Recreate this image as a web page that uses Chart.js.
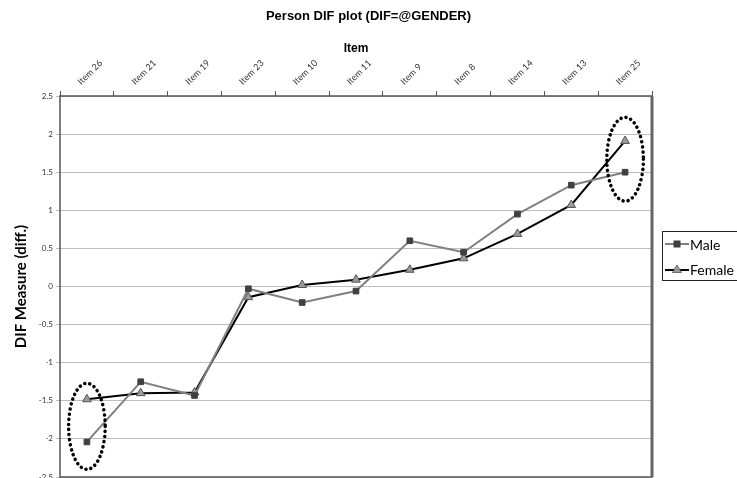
<!DOCTYPE html>
<html>
<head>
<meta charset="utf-8">
<script src="https://cdn.jsdelivr.net/npm/chart.js@4"></script>
<style>
  body { margin: 0; background: #fff; }
  #wrap { position: relative; width: 737px; height: 478px; overflow: hidden; }
  #title { position: absolute; left: 0; top: 8px; width: 737px; text-align: center;
    font: bold 13px "Liberation Sans", Arial, sans-serif; color: #000; }
  #legend { position: absolute; left: 662px; top: 231px; width: 90px; height: 50px;
    border: 1px solid #222; box-sizing: border-box; font: 14px Lato, "Open Sans", sans-serif; }
  .row { position: absolute; left: 2px; height: 18px; display: flex; align-items: center; }
  .row svg { margin-right: 1px; }
  canvas { display: block; }
</style>
</head>
<body>
<div id="wrap">
  <canvas id="chart" width="737" height="483"></canvas>
  <div id="title">Person DIF plot (DIF=@GENDER)</div>
  <div id="legend">
    <div class="row" style="top:3px">
      <svg width="24" height="10"><line x1="0" y1="5" x2="24" y2="5" stroke="#808080" stroke-width="2"/><rect x="8.5" y="1.5" width="7" height="7" fill="#404040"/></svg>Male
    </div>
    <div class="row" style="top:28px">
      <svg width="24" height="10"><line x1="0" y1="6" x2="24" y2="6" stroke="#000" stroke-width="2"/><polygon points="12,1 16.5,8.5 7.5,8.5" fill="#9a9a9a" stroke="#555" stroke-width="0.8"/></svg>Female
    </div>
  </div>
</div>
<script>
const items = ["Item 26", "Item 21", "Item 19", "Item 23", "Item 10", "Item 11",
  "Item 9", "Item 8", "Item 14", "Item 13", "Item 25"];
const maleDif = [-2.04, -1.25, -1.43, -0.03, -0.21, -0.06, 0.60, 0.45, 0.95, 1.33, 1.50];
const femaleDif = [-1.48, -1.40, -1.39, -0.14, 0.02, 0.09, 0.22, 0.37, 0.69, 1.07, 1.91];
const yTicks = [-2.5, -2, -1.5, -1, -0.5, 0, 0.5, 1, 1.5, 2, 2.5];

// circled items: category + value range the dotted ellipse covers
const circled = [
  { item: "Item 26", from: -2.40, to: -1.27 },
  { item: "Item 25", from: 1.12, to: 2.22 }
];

const frame = {
  id: "frame",
  afterDraw(chart) {
    const { ctx, chartArea: a, scales } = chart;
    ctx.save();
    // plot border
    ctx.strokeStyle = "#555";
    ctx.lineWidth = 1.5;
    ctx.strokeRect(a.left, a.top, a.right - a.left, a.bottom - a.top);
    ctx.lineWidth = 3;
    ctx.strokeStyle = "#666";
    ctx.beginPath();
    ctx.moveTo(a.right, a.top);
    ctx.lineTo(a.right, a.bottom);
    ctx.stroke();
    // dotted ellipses
    const band = scales.x.getPixelForValue(1) - scales.x.getPixelForValue(0);
    ctx.strokeStyle = "#000";
    ctx.lineWidth = 3.5;
    ctx.lineCap = "round";
    ctx.setLineDash([0.1, 5]);
    circled.forEach(c => {
      const cx = scales.x.getPixelForValue(items.indexOf(c.item));
      const y1 = scales.y.getPixelForValue(c.to);
      const y2 = scales.y.getPixelForValue(c.from);
      ctx.beginPath();
      ctx.ellipse(cx, (y1 + y2) / 2, band * 0.34, (y2 - y1) / 2, 0, 0, Math.PI * 2);
      ctx.stroke();
    });
    ctx.restore();
  }
};

new Chart(document.getElementById("chart"), {
  type: "line",
  data: {
    labels: items,
    datasets: [
      {
        label: "Male", data: maleDif,
        borderColor: "#808080", borderWidth: 2,
        pointStyle: "rect", pointRadius: 4, pointBackgroundColor: "#404040",
        pointBorderColor: "#404040", pointBorderWidth: 1, tension: 0
      },
      {
        label: "Female", data: femaleDif,
        borderColor: "#000", borderWidth: 2,
        pointStyle: "triangle", pointRadius: 5, pointBackgroundColor: "#9a9a9a",
        pointBorderColor: "#555", pointBorderWidth: 1, tension: 0
      }
    ]
  },
  options: {
    responsive: false,
    animation: false,
    layout: { padding: { top: 0, left: 0, right: 85, bottom: 2 } },
    plugins: { legend: { display: false }, title: { display: false }, tooltip: { enabled: false } },
    scales: {
      x: {
        position: "top",
        offset: true,
        grid: { display: true, drawOnChartArea: false, offset: true, color: "#555", tickLength: 5 },
        border: { display: false },
        ticks: {
          minRotation: 45, maxRotation: 45, padding: 4,
          font: { family: "Lato, 'Open Sans', sans-serif", size: 9 }, color: "#333"
        },
        title: {
          display: true, text: "Item", color: "#000",
          font: { family: "'Liberation Sans', Arial, sans-serif", size: 12, weight: "bold" },
          padding: { top: 41, bottom: 0 }
        },
        afterFit(scale) { scale.height = 96; }
      },
      y: {
        min: -2.5, max: 2.5,
        afterBuildTicks(scale) { scale.ticks = yTicks.map(v => ({ value: v })); },
        grid: { color: "#bdbdbd", lineWidth: 1, tickLength: 4 },
        border: { display: false },
        ticks: {
          padding: 3,
          font: { family: "Lato, 'Open Sans', sans-serif", size: 8 }, color: "#333",
          callback: v => String(v)
        },
        title: {
          display: true, text: "DIF Measure (diff.)", color: "#000",
          font: { family: "Lato, 'Open Sans', sans-serif", size: 15, weight: "bold" },
          padding: { top: 12, bottom: 0 }
        },
        afterFit(scale) {
          scale.width = 60;
          scale.paddingTop = 0;
          scale.paddingBottom = 0;
        }
      }
    }
  },
  plugins: [frame]
});
</script>
</body>
</html>
